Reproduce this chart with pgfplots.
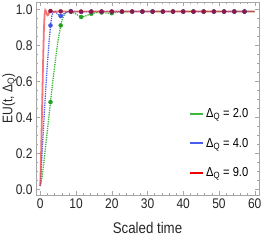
\documentclass[border=0pt]{standalone}
\usepackage{pgfplots}
\pgfplotsset{compat=1.18}
\usepackage{fontspec}
\setmainfont{Liberation Sans}[FakeStretch=0.86]
\definecolor{cgreen}{HTML}{3DB83D}
\definecolor{cgreenm}{HTML}{22A022}
\definecolor{cblue}{HTML}{4A5CF0}
\definecolor{cbluem}{HTML}{3F55E8}
\definecolor{cred}{HTML}{F03A3A}
\definecolor{credm}{HTML}{8E1848}
\begin{document}
\begin{tikzpicture}
\begin{axis}[
  scale only axis, width=223bp, height=193bp,
  xmin=-1.2, xmax=61.2, ymin=-0.03, ymax=1.04,
  xtick={0,10,...,60}, minor x tick num=4,
  ytick={0,0.2,...,1.0}, minor y tick num=3,
  yticklabel style={/pgf/number format/fixed,/pgf/number format/fixed zerofill,/pgf/number format/precision=1},
  /pgf/number format/assume math mode=true,
  tick align=inside,
  major tick length=4bp, minor tick length=2bp,
  every tick/.style={gray!70, line width=0.4pt},
  axis line style={gray!70, line width=0.5pt},
  tick label style={font=\fontsize{14}{16}\selectfont, text=black!85},
  xlabel={Scaled time},
  ylabel={EU(t, Δ\textsubscript{Q})},
  every axis x label/.style={at={(axis description cs:0.5,-0.171)}, anchor=center, font=\fontsize{15.5}{17}\selectfont, text=black!85},
  every axis y label/.style={at={(axis description cs:-0.12,0.5)}, anchor=center, rotate=90, font=\fontsize{14}{16}\selectfont, text=black!85},
  xticklabel style={yshift=-0.5bp},
  legend style={at={(rel axis cs:0.975,0.47)}, anchor=north east, draw=none, fill=none,
    font=\fontsize{13}{15}\selectfont, row sep=15bp, cells={anchor=west}},
]
% Delta = 2.0
\addplot[cgreen, line width=1.3pt, densely dotted,
  legend image code/.code={\draw[solid, cgreen, line width=1.6pt] (0bp,0bp) -- (13bp,0bp);}] coordinates {
(0,0.02) (0.5,0.07) (1,0.15) (1.5,0.24) (2,0.33) (2.5,0.42) (2.857,0.485) (3.5,0.60) (4,0.68) (4.5,0.76) (5,0.83) (5.5,0.885) (5.714,0.91) (6,0.935) (6.5,0.962) (7,0.977) (7.5,0.985) (8,0.988) (8.571,0.987) (9,0.984) (10,0.973) (11,0.961) (11.43,0.957) (12,0.958) (13,0.965) (14,0.973) (14.29,0.975) (15,0.979) (16,0.982) (17.14,0.982) (18,0.980) (19,0.978) (20,0.978) (21,0.981) (22,0.984) (22.86,0.986) (25,0.987) (30,0.987) (40,0.987) (50,0.987) (60,0.987)
};
\addlegendentry{Δ\textsubscript{Q} = 2.0}
\addplot[only marks, mark=*, mark size=2bp, cgreenm, forget plot] coordinates {
(2.857,0.485) (5.714,0.91) (8.571,0.987) (11.43,0.957) (14.29,0.975) (17.14,0.982) (20,0.978) (22.86,0.986) (25.71,0.987) (28.57,0.987) (31.43,0.987) (34.29,0.987) (37.14,0.987) (40,0.987) (42.86,0.987) (45.71,0.987) (48.57,0.987) (51.43,0.987) (54.29,0.987) (57.14,0.987)
};
% Delta = 4.0
\addplot[cblue, line width=1.3pt, densely dotted,
  legend image code/.code={\draw[solid, cblue, line width=1.6pt] (0bp,0bp) -- (13bp,0bp);}] coordinates {
(0,0.02) (0.5,0.2) (1,0.38) (1.5,0.55) (2,0.70) (2.5,0.83) (2.857,0.91) (3.2,0.96) (3.6,0.985) (4,0.99) (4.5,0.982) (5,0.97) (5.714,0.962) (6.2,0.967) (6.8,0.977) (7.5,0.985) (8.571,0.989) (10,0.986) (11.43,0.985) (13,0.986) (14.29,0.987) (20,0.987) (30,0.987) (40,0.987) (50,0.987) (60,0.987)
};
\addlegendentry{Δ\textsubscript{Q} = 4.0}
\addplot[only marks, mark=*, mark size=2bp, cbluem, forget plot] coordinates {
(2.857,0.91) (5.714,0.962) (8.571,0.989) (11.43,0.985) (14.29,0.987) (17.14,0.987) (20,0.987) (22.86,0.987) (25.71,0.987) (28.57,0.987) (31.43,0.987) (34.29,0.987) (37.14,0.987) (40,0.987) (42.86,0.987) (45.71,0.987) (48.57,0.987) (51.43,0.987) (54.29,0.987) (57.14,0.987)
};
% Delta = 9.0
\addplot[cred, line width=1.8pt, opacity=0.7,
  legend image code/.code={\draw[solid, opacity=1, red!95!black, line width=1.6pt] (0bp,0bp) -- (13bp,0bp);}] coordinates {
(0,0.02) (0.25,0.22) (0.5,0.45) (0.75,0.68) (1,0.88) (1.2,0.97) (1.4,0.995) (1.6,0.99) (1.8,0.976) (2.0,0.966) (2.2,0.968) (2.4,0.978) (2.6,0.986) (2.857,0.99) (3.2,0.99) (3.6,0.986) (4,0.985) (4.5,0.987) (5,0.988) (5.714,0.988) (8,0.987) (20,0.987) (30,0.987) (40,0.987) (50,0.987) (60,0.987)
};
\addlegendentry{Δ\textsubscript{Q} = 9.0}
\addplot[only marks, mark=*, mark size=2bp, credm, forget plot] coordinates {
(2.857,0.99) (5.714,0.988) (8.571,0.987) (11.43,0.987) (14.29,0.987) (17.14,0.987) (20,0.987) (22.86,0.987) (25.71,0.987) (28.57,0.987) (31.43,0.987) (34.29,0.987) (37.14,0.987) (40,0.987) (42.86,0.987) (45.71,0.987) (48.57,0.987) (51.43,0.987) (54.29,0.987) (57.14,0.987)
};
\end{axis}
\pgfresetboundingbox
\path[use as bounding box] ([shift={(-36bp,-45bp)}]current axis.south west) rectangle ([shift={(3bp,2bp)}]current axis.north east);
\end{tikzpicture}
\end{document}
